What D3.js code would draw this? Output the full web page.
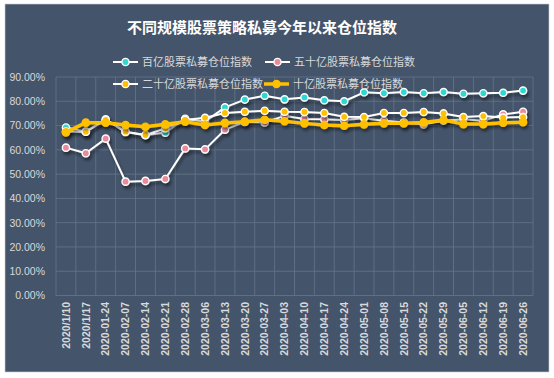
<!DOCTYPE html>
<html><head><meta charset="utf-8">
<script src="https://cdn.jsdelivr.net/npm/d3@7"></script>
<style>body{margin:0;background:#fff;}svg{display:block;}</style>
</head><body>
<svg id="c" width="554" height="378"></svg>
<script>
const categories = ["2020/1/10","2020/1/17","2020-01-24","2020-02-07","2020-02-14","2020-02-21","2020-02-28","2020-03-06","2020-03-13","2020-03-20","2020-03-27","2020-04-03","2020-04-10","2020-04-17","2020-04-24","2020-05-01","2020-05-08","2020-05-15","2020-05-22","2020-05-29","2020-06-05","2020-06-12","2020-06-19","2020-06-26"];
const baiyi   = [69.2,67.5,72.6,67.3,66.0,67.1,72.8,71.6,77.5,80.7,82.3,80.8,81.6,80.4,80.0,83.7,83.3,83.8,83.3,83.8,83.1,83.3,83.5,84.4];
const wushiyi = [60.9,58.6,64.6,46.9,47.2,48.0,60.6,60.2,68.3,71.5,71.3,74.0,72.7,72.6,72.3,73.0,72.0,71.3,70.5,72.0,72.6,72.0,74.6,75.7];
const ershiyi = [67.5,67.5,72.3,67.5,66.1,68.9,72.3,73.2,75.2,75.7,76.1,75.7,75.6,75.2,73.6,73.5,75.2,75.2,75.6,75.0,73.5,73.9,73.3,73.5];
const shiyi   = [67.2,71.2,71.2,70.2,69.5,70.5,71.6,70.2,71.1,71.6,72.4,71.8,70.9,70.2,69.9,70.5,70.9,70.9,71.3,72.3,70.6,70.6,71.2,71.4];
const seriesNames = ["百亿股票私募仓位指数","五十亿股票私募仓位指数","二十亿股票私募仓位指数","十亿股票私募仓位指数"];
const yTicks = [0,10,20,30,40,50,60,70,80,90];
const title = "不同规模股票策略私募今年以来仓位指数";

const svg = d3.select("#c");
const W = 554, H = 378;
svg.append("rect").attr("x",0).attr("y",0).attr("width",W).attr("height",H).attr("fill","#fff");
svg.append("rect").attr("x",5).attr("y",4).attr("width",544).attr("height",368).attr("fill","#44546a").attr("stroke","#d0d0d0").attr("stroke-width",0.6);

const defs = svg.append("defs");
const f = defs.append("filter").attr("id","sh").attr("x","-10%").attr("y","-10%").attr("width","130%").attr("height","140%");
f.append("feDropShadow").attr("dx",1.5).attr("dy",3).attr("stdDeviation",1.6).attr("flood-color","#000").attr("flood-opacity",0.45);

const x = d3.scaleBand().domain(categories).range([56,533]);
const y = d3.scaleLinear().domain([0,90]).range([295.5,77]);

// gridlines
const grid = svg.append("g");
grid.selectAll("line.h").data(yTicks).join("line")
  .attr("x1",56).attr("x2",533).attr("y1",d=>y(d)).attr("y2",d=>y(d))
  .attr("stroke","#66758a").attr("stroke-width",0.8);
const vb = categories.map(c=>x(c)).concat([x.range()[1]]);
grid.selectAll("line.v").data(vb).join("line")
  .attr("x1",d=>d).attr("x2",d=>d).attr("y1",y(90)).attr("y2",y(0))
  .attr("stroke","#66758a").attr("stroke-width",0.8);

// y axis
const yAxis = d3.axisLeft(y).tickValues(yTicks).tickSize(0).tickPadding(0)
  .tickFormat(d=>d3.format(".2f")(d)+"%");
const ya = svg.append("g").attr("transform","translate(45,0)").call(yAxis);
ya.select(".domain").remove();
ya.selectAll("text").attr("fill","#d9d9d9").attr("font-size","10.5px").attr("font-family","'Liberation Sans',Arial,sans-serif");

// x axis
const xAxis = d3.axisBottom(x).tickSize(0).tickPadding(0);
const xa = svg.append("g").attr("transform","translate(0,302)").call(xAxis);
xa.select(".domain").remove();
xa.selectAll("text")
  .attr("fill","#d9d9d9").attr("font-size","10.5px").attr("font-weight","bold").attr("font-family","'Liberation Sans',Arial,sans-serif")
  .attr("text-anchor","end").attr("dy","0.35em").attr("y",0).attr("x",0)
  .attr("transform","rotate(-90)");

const cx = c => x(c) + x.bandwidth()/2;
const line = d3.line().x((d,i)=>cx(categories[i])).y(d=>y(d));

const series = [
  {name:seriesNames[0], data:baiyi,   lc:"#ffffff", lw:2,   mc:"#2fd8d0", ms:"#ffffff", r:3.6},
  {name:seriesNames[1], data:wushiyi, lc:"#ffffff", lw:2,   mc:"#ec8a9c", ms:"#ffffff", r:3.6},
  {name:seriesNames[2], data:ershiyi, lc:"#ffffff", lw:2,   mc:"#ffc000", ms:"#ffffff", r:3.6},
  {name:seriesNames[3], data:shiyi,   lc:"#ffc000", lw:3.5, mc:"#ffc000", ms:"#ffc000", r:3.6}
];

series.forEach(s=>{
  const g = svg.append("g").attr("filter","url(#sh)");
  g.append("path").attr("d",line(s.data)).attr("fill","none")
    .attr("stroke",s.lc).attr("stroke-width",s.lw).attr("stroke-linejoin","round");
  g.selectAll("circle").data(s.data).join("circle")
    .attr("cx",(d,i)=>cx(categories[i])).attr("cy",d=>y(d)).attr("r",s.r)
    .attr("fill",s.mc).attr("stroke",s.ms).attr("stroke-width",1.4);
});

// title
svg.append("text").attr("x",262).attr("y",33).attr("text-anchor","middle")
  .attr("fill","#ffffff").attr("font-size","15px").attr("font-weight","bold")
  .attr("font-family","'Noto Sans CJK SC',sans-serif").text(title);

// legend
const legPos = [[113,62],[265,62],[113,84],[264,84]];
series.forEach((s,i)=>{
  const [lx,ly] = legPos[i];
  const g = svg.append("g");
  g.append("line").attr("x1",lx).attr("x2",lx+25).attr("y1",ly).attr("y2",ly)
    .attr("stroke",s.lc).attr("stroke-width",s.lw);
  g.append("circle").attr("cx",lx+12.5).attr("cy",ly).attr("r",s.r)
    .attr("fill",s.mc).attr("stroke",s.ms).attr("stroke-width",1.4);
  g.append("text").attr("x",lx+29).attr("y",ly).attr("dy","0.36em")
    .attr("fill","#d9d9d9").attr("font-size","11px")
    .attr("font-family","'Noto Sans CJK SC',sans-serif").text(s.name);
});
</script>
</body></html>
